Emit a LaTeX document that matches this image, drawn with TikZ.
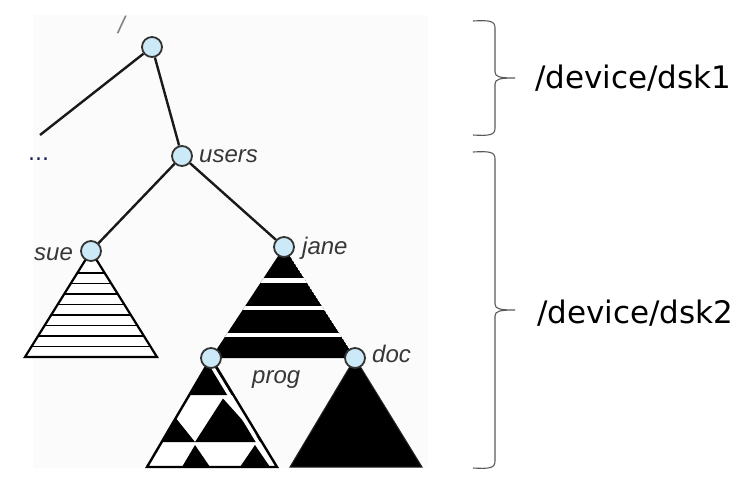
\documentclass[tikz,border=0pt]{standalone}
\usepackage{fontspec}
\setmainfont{Liberation Sans}
\newfontfamily\devfont{DejaVu Sans}
\usetikzlibrary{backgrounds}
\definecolor{nodeblue}{RGB}{204,233,247}
\definecolor{lblgray}{RGB}{55,55,55}
\definecolor{dotblue}{RGB}{25,35,90}
\definecolor{paper}{RGB}{251,251,251}
\begin{document}
\begin{tikzpicture}[x=1pt,y=-1pt,
  dirnode/.style={circle,draw=black!80,line width=1.8pt,fill=nodeblue,minimum size=20pt,inner sep=0pt},
  lbl/.style={anchor=base west,inner sep=0pt,text=lblgray,font=\fontsize{24}{28}\selectfont\itshape},
  dsk/.style={anchor=base west,inner sep=0pt,font=\devfont\fontsize{31}{36}\selectfont},
  edge/.style={line width=2.4pt,black!90},
  bracestyle/.style={line width=1.1pt,black!65}]
\useasboundingbox (0,0) rectangle (752,483);
% directory nodes
\node[dirnode] (root) at (152,47) {};
\node[dirnode] (users) at (182,156) {};
\node[dirnode] (sue) at (91,251) {};
\node[dirnode] (jane) at (284,247) {};
\node[dirnode] (prog) at (211,358) {};
\node[dirnode] (doc) at (355,358) {};
\coordinate (other) at (40,135);
% labels
\node[lbl,text=black!50] (rootlbl) at (118,33) {/};
\node[lbl] (userslbl) at (199,162) {users};
\node[lbl] (suelbl) at (34,260) {sue};
\node[lbl] (janelbl) at (302,254) {jane};
\node[lbl] (doclbl) at (372,362) {doc};
\node[lbl] (proglbl) at (252,383) {prog};
\node[anchor=base west,inner sep=0pt,text=dotblue,font=\devfont\fontsize{22}{26}\selectfont] (dots) at (28,160) {...};
% edges
\draw[edge] (root) -- (users);
\draw[edge] (root) -- (other);
\draw[edge] (users) -- (sue);
\draw[edge] (users) -- (jane);
\begin{pgfonlayer}{background}
\fill[paper] (33,15) rectangle (428,468);
% sue: striped
\draw[line width=2.2pt,fill=white] (sue.center) -- (25,357) -- (157,357) -- cycle;
\begin{scope}
\clip (sue.center) -- (25,357) -- (157,357) -- cycle;
\foreach \k in {1,...,8} \draw[line width=1.8pt] (0,357-10.5*\k) -- (200,357-10.5*\k);
\end{scope}
% jane: black bands
\begin{scope}
\clip (jane.center) -- (prog.center) -- (doc.center) -- cycle;
\fill[black] (jane.center) -- (prog.center) -- (doc.center) -- cycle;
\foreach \y in {280.5,308,335} \fill[white] (200,\y-2.3) rectangle (370,\y+2.3);
\end{scope}
% prog: checked
\fill[white] (prog.center) -- (147,467) -- (277,467) -- cycle;
\begin{scope}
\clip (prog.center) -- (147,467) -- (277,467) -- cycle;
\fill[black] (prog.center) -- (189.3,395) -- (233.4,395) -- cycle;
\fill[black] (223,398.5) -- (195,442) -- (262,442) -- cycle;
\fill[black] (175.8,418) -- (161,442) -- (195,442) -- cycle;
\fill[black] (195,445) -- (182,467) -- (210,467) -- cycle;
\fill[black] (255,445) -- (240,467) -- (270,467) -- cycle;
\draw[white,line width=3.5pt] (207,358) -- (273,467);
\end{scope}
\draw[line width=2.4pt] (prog.center) -- (147,467) -- (277,467) -- cycle;
% doc: solid
\draw[black!85,line width=1pt,fill=black] (doc.center) -- (290,467) -- (422,467) -- cycle;
\end{pgfonlayer}
% braces
\draw[bracestyle] (473,21) .. controls (490,20) and (495,21) .. (495,28) -- (495,72)
  .. controls (495,77) and (500,78) .. (515,78) .. controls (500,78) and (495,79) .. (495,84)
  -- (495,128) .. controls (495,135) and (490,136) .. (473,135);
\draw[bracestyle] (473,152) .. controls (490,151) and (495,152) .. (495,159) -- (495,304)
  .. controls (495,309) and (500,310) .. (515,310) .. controls (500,310) and (495,311) .. (495,316)
  -- (495,461) .. controls (495,468) and (490,469) .. (473,468);
\node[dsk] (dsk1) at (535,88) {/device/dsk1};
\node[dsk] (dsk2) at (537,323) {/device/dsk2};
\end{tikzpicture}
\end{document}
